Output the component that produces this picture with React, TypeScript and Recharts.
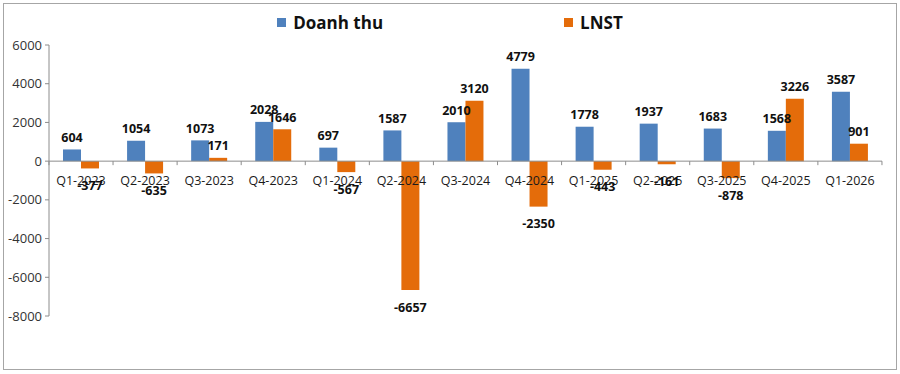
import { BarChart, Bar, XAxis, YAxis, LabelList, ReferenceLine } from "recharts";

const QUARTERS = [
  "Q1-2023", "Q2-2023", "Q3-2023", "Q4-2023", "Q1-2024", "Q2-2024", "Q3-2024",
  "Q4-2024", "Q1-2025", "Q2-2025", "Q3-2025", "Q4-2025", "Q1-2026",
];
const REVENUE = [604, 1054, 1073, 2028, 697, 1587, 2010, 4779, 1778, 1937, 1683, 1568, 3587];
const PROFIT = [-377, -635, 171, 1646, -567, -6657, 3120, -2350, -443, -161, -878, 3226, 901];
const Y_TICKS = [-8000, -6000, -4000, -2000, 0, 2000, 4000, 6000];

const SERIES = [
  { key: "revenue", name: "Doanh thu", color: "#4F81BD" },
  { key: "profit", name: "LNST", color: "#E46C0A" },
];

const data = QUARTERS.map((quarter, i) => ({
  quarter,
  revenue: REVENUE[i],
  profit: PROFIT[i],
}));

const AXIS = "#8c8c8c";
const FONT = "'Open Sans', 'Noto Sans', sans-serif";

const CHART_W = 892;
const CHART_H = 365;
const MARGIN = { top: 41, right: 14, bottom: 53, left: 0 };
const Y_AXIS_W = 45;
const BAND = (CHART_W - MARGIN.left - MARGIN.right - Y_AXIS_W) / QUARTERS.length;

// category names sit on the zero line, not at the bottom of the plot
function QuarterLabel(props: any) {
  const { x, y, width, height, value, index } = props;
  const zeroY = Number(y) + Number(height);
  const cx = Number(x) + Number(width);
  const left = cx - BAND / 2;
  return (
    <g>
      <line x1={left} x2={left} y1={zeroY} y2={zeroY + 4} stroke={AXIS} />
      {index === QUARTERS.length - 1 && (
        <line x1={cx + BAND / 2} x2={cx + BAND / 2} y1={zeroY} y2={zeroY + 4} stroke={AXIS} />
      )}
      <text
        x={cx}
        y={zeroY + 19}
        textAnchor="middle"
        dominantBaseline="central"
        fontSize={12.5}
        fontFamily={FONT}
        fill="#1a1a1a"
      >
        {value}
      </text>
    </g>
  );
}

function ValueLabel(props: any) {
  const { x, y, width, height, value } = props;
  const y1 = Number(y);
  const y2 = Number(y) + Number(height);
  const top = Math.min(y1, y2);
  const bottom = Math.max(y1, y2);
  const cx = Number(x) + Number(width) / 2;
  const ty = value < 0 ? bottom + 17 : top - 12;
  return (
    <text
      x={cx}
      y={ty}
      textAnchor="middle"
      dominantBaseline="central"
      fontSize={12.5}
      fontWeight="bold"
      fontFamily={FONT}
      fill="#111"
    >
      {value}
    </text>
  );
}

function ChartLegend() {
  return (
    <div
      style={{
        position: "absolute",
        top: 7,
        left: 0,
        width: CHART_W,
        display: "flex",
        justifyContent: "center",
        gap: 181,
        fontFamily: FONT,
      }}
    >
      {SERIES.map((s) => (
        <div key={s.name} style={{ display: "flex", alignItems: "center" }}>
          <span style={{ width: 9, height: 9, background: s.color, marginRight: 7 }} />
          <span style={{ fontSize: 17, fontWeight: "bold", color: "#111" }}>{s.name}</span>
        </div>
      ))}
    </div>
  );
}

export default function App() {
  return (
    <div
      style={{
        position: "fixed",
        left: 3,
        top: 3,
        width: CHART_W,
        height: CHART_H,
        border: "1px solid #a6a6a6",
        background: "#fff",
      }}
    >
      <ChartLegend />
      <BarChart
        width={CHART_W}
        height={CHART_H}
        data={data}
        margin={MARGIN}
        barGap={0}
        barSize={18}
      >
        <XAxis dataKey="quarter" hide />
        <YAxis
          domain={[-8000, 6000]}
          ticks={Y_TICKS}
          width={Y_AXIS_W}
          tickSize={4}
          tickMargin={3}
          axisLine={{ stroke: AXIS }}
          tickLine={{ stroke: AXIS }}
          tick={{ fontSize: 13, fill: "#333", fontFamily: FONT }}
          interval={0}
        />
        <ReferenceLine y={0} stroke={AXIS} />
        {SERIES.map((s) => (
          <Bar key={s.key} dataKey={s.key} name={s.name} fill={s.color} isAnimationActive={false}>
            <LabelList dataKey={s.key} content={<ValueLabel />} />
            {s.key === "revenue" && <LabelList dataKey="quarter" content={<QuarterLabel />} />}
          </Bar>
        ))}
      </BarChart>
    </div>
  );
}
